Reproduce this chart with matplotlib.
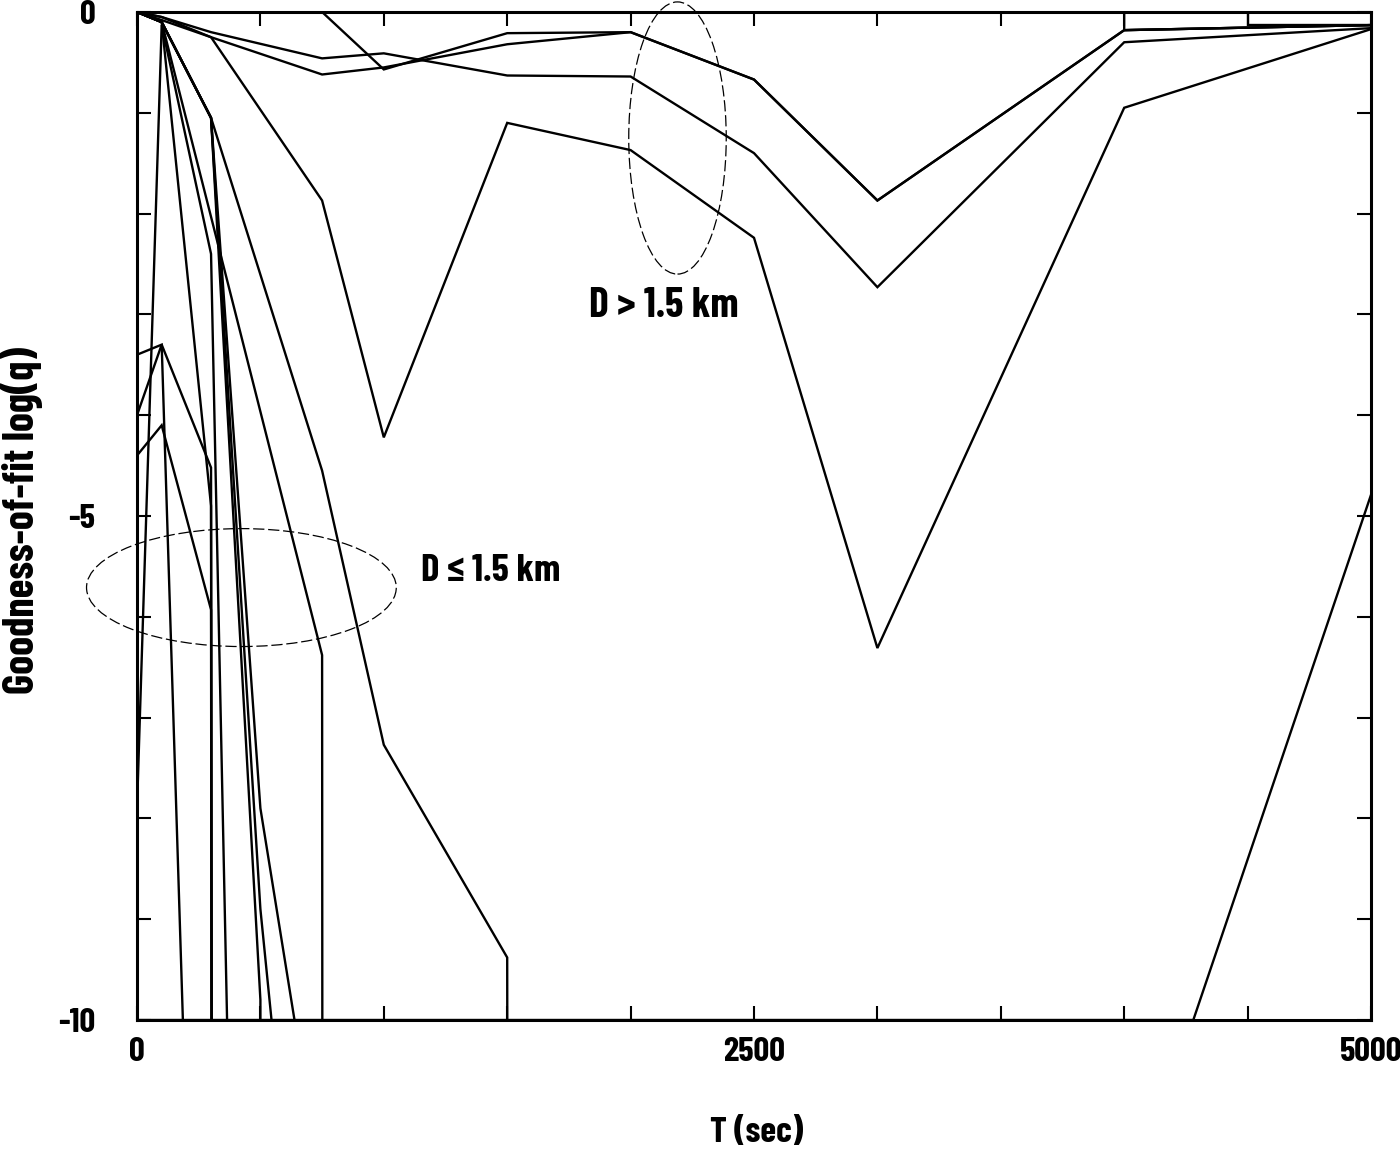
import matplotlib
matplotlib.use("Agg")
import matplotlib.pyplot as plt
from matplotlib.patches import Ellipse
import numpy as np

# ---------------- data ----------------
# D > 1.5 km curves
T_big = [0, 100, 300, 750, 1000, 1500, 2000, 2500, 3000, 4000, 5000]
L1 = [0, -0.05, -0.2, -0.46, -0.41, -0.63, -0.64, -1.40, -2.73, -0.30, -0.16]
L2 = [0, -0.05, -0.25, -0.62, -0.55, -0.32, -0.20, -0.67, -1.87, -0.18, -0.13]
L3 = [0, 0, 0, 0, -0.57, -0.21, -0.20, -0.67, -1.87, -0.18, -0.13]
L4 = [0, -0.08, -0.25, -1.87, -4.22, -1.10, -1.37, -2.24, -6.31, -0.95, -0.17]
T_L5 = [0, 4280, 5000]
L5 = [-10, -10, -4.79]
T_M1 = [0, 4500, 4500, 5000]
M1 = [0, 0, -0.13, -0.13]
T_M2 = [0, 4000, 4000, 5000]
M2 = [0, 0, -0.18, -0.13]

# D <= 1.5 km curves (-1000 ~ log of q = 0)
T_S1 = [0, 100, 300, 750, 1000, 1500, 2000]
S1 = [0, -0.1, -1.05, -4.55, -7.27, -9.38, -1000]
T_S2 = [0, 100, 750, 1000]
S2 = [0, -0.1, -6.38, -1000]
T_S3 = [0, 100, 300, 500, 750]
S3 = [0, -0.1, -1.05, -9.8, -1000]
T_S4 = [0, 100, 300, 500, 750]
S4 = [0, -0.1, -1.05, -8.9, -15]
T_S5 = [0, 100, 300, 500, 750, 1000]
S5 = [0, -0.1, -1.05, -7.9, -11.7, -1000]
T_E1 = [0, 100, 200, 300]
E1 = [-3.4, -3.3, -11.1, -1000]
T_E2 = [0, 100, 300, 750]
E2 = [-4.0, -3.3, -4.52, -1000]
T_E3 = [0, 100, 300, 750]
E3 = [-4.4, -4.1, -5.93, -1000]
T_E4 = [0, 100, 300, 400, 750]
E4 = [-7.9, -0.13, -2.4, -14.1, -1000]
T_E5 = [0, 100, 300, 750]
E5 = [0, -0.1, -4.9, -1000]

x_ticks = [0, 2500, 5000]
y_ticks = [0, -5, -10]

# ---------------- figure ----------------
W, H = 1400, 1154
fig = plt.figure(figsize=(W / 100, H / 100), dpi=100)
L, R, TOP, BOT = 137, 1371, 12, 1020
ax = fig.add_axes([L / W, 1 - BOT / H, (R - L) / W, (BOT - TOP) / H])

font = ['Barlow Condensed', 'DejaVu Sans']
lw = 1.7
big = [(T_big, L1), (T_big, L2), (T_big, L3), (T_big, L4),
       (T_L5, L5), (T_M1, M1), (T_M2, M2)]
small = [(T_S1, S1), (T_S2, S2), (T_S3, S3), (T_S4, S4), (T_S5, S5),
         (T_E1, E1), (T_E2, E2), (T_E3, E3), (T_E4, E4), (T_E5, E5)]
for t, v in big + small:
    ax.plot(t, v, color='black', lw=lw, solid_joinstyle='miter')

ax.set_xlim(0, 5000)
ax.set_ylim(-10, 0)
ax.set_xticks(np.arange(0, 5001, 500))
ax.set_xticklabels([str(t) if t in x_ticks else '' for t in range(0, 5001, 500)])
ax.set_yticks(np.arange(-10, 1, 1))
ax.set_yticklabels([str(t) if t in y_ticks else '' for t in range(-10, 1)])
ax.tick_params(direction='in', length=10, width=1.5, top=True, right=True,
               labelsize=25, pad=12)
ax.tick_params(axis='y', pad=30)
for lab in ax.get_xticklabels() + ax.get_yticklabels():
    lab.set_family(font)
    lab.set_fontweight('bold')
for s in ax.spines.values():
    s.set_linewidth(2.2)

# ellipses
e1 = Ellipse((423, -5.71), 1255, 1.17, fill=False, lw=0.9, ls=(0, (9, 3)),
             color='black', clip_on=False)
e2 = Ellipse((2190, -1.25), 395, 2.70, fill=False, lw=0.9, ls=(0, (9, 3)),
             color='black', clip_on=False)
ax.add_patch(e1)
ax.add_patch(e2)

def ftext(x, y, s, **kw):
    fig.text(x / W, 1 - y / H, s, ha='center', va='center', family=font,
             fontweight='bold', **kw)

ftext(664, 306, 'D > 1.5 km', fontsize=30)
ftext(491, 571, 'D \u2264 1.5 km', fontsize=28)
ftext(757, 1133, 'T (sec)', fontsize=26)
ftext(22, 520, 'Goodness-of-fit log(q)', fontsize=31, rotation=90)

fig.savefig('out.png', dpi=100)
